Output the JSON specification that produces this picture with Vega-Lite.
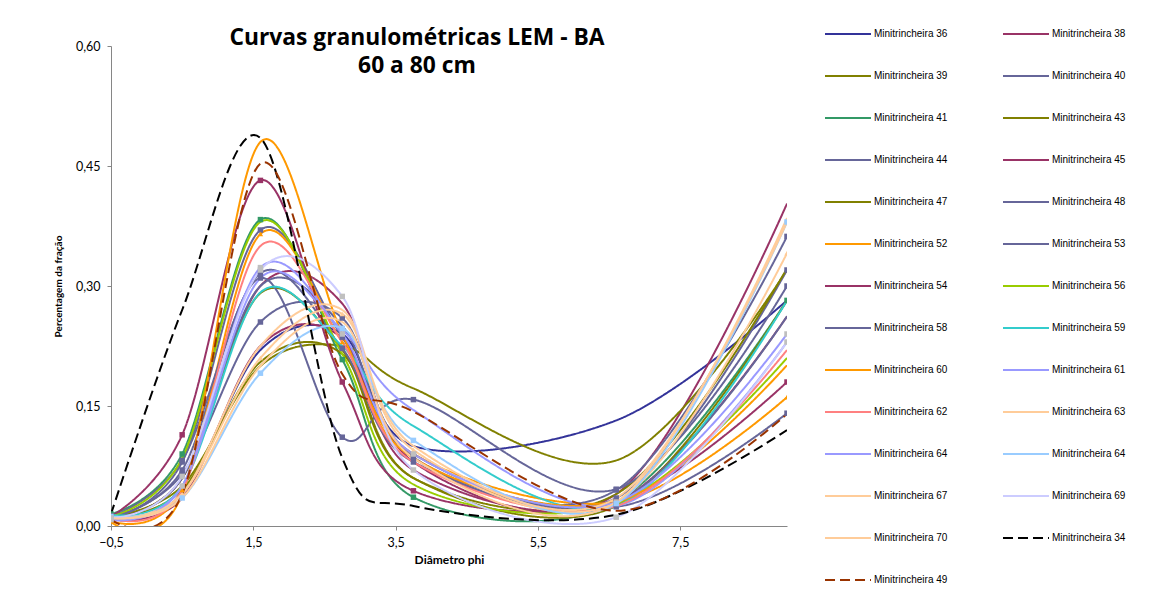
{
  "$schema": "https://vega.github.io/schema/vega-lite/v6.json",
  "width": 676,
  "height": 480,
  "autosize": {"type": "none"},
  "padding": {"left": 111, "top": 46, "right": 372, "bottom": 75},
  "background": "white",
  "config": {"view": {"stroke": null}, "font": "Lato"},
  "title": {
    "text": ["Curvas granulométricas LEM - BA", "60 a 80 cm"],
    "font": "Open Sans", "fontSize": 22.8, "fontWeight": "bold", "color": "#000",
    "frame": "group", "anchor": "middle", "dx": -32, "lineHeight": 28, "offset": -68
  },
  "data": {"values": [
    {"serie":"Minitrincheira 36","phi":-0.5,"valor":0.010},{"serie":"Minitrincheira 36","phi":0.5,"valor":0.040},{"serie":"Minitrincheira 36","phi":1.6,"valor":0.220},{"serie":"Minitrincheira 36","phi":2.75,"valor":0.240},{"serie":"Minitrincheira 36","phi":3.75,"valor":0.100},{"serie":"Minitrincheira 36","phi":6.6,"valor":0.132},{"serie":"Minitrincheira 36","phi":9,"valor":0.282},
    {"serie":"Minitrincheira 38","phi":-0.5,"valor":0.012},{"serie":"Minitrincheira 38","phi":0.5,"valor":0.060},{"serie":"Minitrincheira 38","phi":1.6,"valor":0.300},{"serie":"Minitrincheira 38","phi":2.75,"valor":0.278},{"serie":"Minitrincheira 38","phi":3.75,"valor":0.080},{"serie":"Minitrincheira 38","phi":6.6,"valor":0.040},{"serie":"Minitrincheira 38","phi":9,"valor":0.403},
    {"serie":"Minitrincheira 39","phi":-0.5,"valor":0.012},{"serie":"Minitrincheira 39","phi":0.5,"valor":0.050},{"serie":"Minitrincheira 39","phi":1.6,"valor":0.200},{"serie":"Minitrincheira 39","phi":2.75,"valor":0.225},{"serie":"Minitrincheira 39","phi":3.75,"valor":0.172},{"serie":"Minitrincheira 39","phi":6.6,"valor":0.082},{"serie":"Minitrincheira 39","phi":9,"valor":0.320},
    {"serie":"Minitrincheira 40","phi":-0.5,"valor":0.010},{"serie":"Minitrincheira 40","phi":0.5,"valor":0.080},{"serie":"Minitrincheira 40","phi":1.6,"valor":0.370},{"serie":"Minitrincheira 40","phi":2.75,"valor":0.236},{"serie":"Minitrincheira 40","phi":3.75,"valor":0.090},{"serie":"Minitrincheira 40","phi":6.6,"valor":0.035},{"serie":"Minitrincheira 40","phi":9,"valor":0.320},
    {"serie":"Minitrincheira 41","phi":-0.5,"valor":0.015},{"serie":"Minitrincheira 41","phi":0.5,"valor":0.090},{"serie":"Minitrincheira 41","phi":1.6,"valor":0.383},{"serie":"Minitrincheira 41","phi":2.75,"valor":0.208},{"serie":"Minitrincheira 41","phi":3.75,"valor":0.036},{"serie":"Minitrincheira 41","phi":6.6,"valor":0.030},{"serie":"Minitrincheira 41","phi":9,"valor":0.282},
    {"serie":"Minitrincheira 43","phi":-0.5,"valor":0.010},{"serie":"Minitrincheira 43","phi":0.5,"valor":0.060},{"serie":"Minitrincheira 43","phi":1.6,"valor":0.291},{"serie":"Minitrincheira 43","phi":2.75,"valor":0.220},{"serie":"Minitrincheira 43","phi":3.75,"valor":0.060},{"serie":"Minitrincheira 43","phi":6.6,"valor":0.040},{"serie":"Minitrincheira 43","phi":9,"valor":0.322},
    {"serie":"Minitrincheira 44","phi":-0.5,"valor":0.012},{"serie":"Minitrincheira 44","phi":0.5,"valor":0.070},{"serie":"Minitrincheira 44","phi":1.6,"valor":0.310},{"serie":"Minitrincheira 44","phi":2.75,"valor":0.111},{"serie":"Minitrincheira 44","phi":3.75,"valor":0.158},{"serie":"Minitrincheira 44","phi":6.6,"valor":0.046},{"serie":"Minitrincheira 44","phi":9,"valor":0.300},
    {"serie":"Minitrincheira 45","phi":-0.5,"valor":0.008},{"serie":"Minitrincheira 45","phi":0.5,"valor":0.035},{"serie":"Minitrincheira 45","phi":1.6,"valor":0.225},{"serie":"Minitrincheira 45","phi":2.75,"valor":0.235},{"serie":"Minitrincheira 45","phi":3.75,"valor":0.070},{"serie":"Minitrincheira 45","phi":6.6,"valor":0.030},{"serie":"Minitrincheira 45","phi":9,"valor":0.262},
    {"serie":"Minitrincheira 47","phi":-0.5,"valor":0.010},{"serie":"Minitrincheira 47","phi":0.5,"valor":0.045},{"serie":"Minitrincheira 47","phi":1.6,"valor":0.205},{"serie":"Minitrincheira 47","phi":2.75,"valor":0.215},{"serie":"Minitrincheira 47","phi":3.75,"valor":0.060},{"serie":"Minitrincheira 47","phi":6.6,"valor":0.025},{"serie":"Minitrincheira 47","phi":9,"valor":0.282},
    {"serie":"Minitrincheira 48","phi":-0.5,"valor":0.010},{"serie":"Minitrincheira 48","phi":0.5,"valor":0.060},{"serie":"Minitrincheira 48","phi":1.6,"valor":0.300},{"serie":"Minitrincheira 48","phi":2.75,"valor":0.250},{"serie":"Minitrincheira 48","phi":3.75,"valor":0.085},{"serie":"Minitrincheira 48","phi":6.6,"valor":0.030},{"serie":"Minitrincheira 48","phi":9,"valor":0.262},
    {"serie":"Minitrincheira 52","phi":-0.5,"valor":0.006},{"serie":"Minitrincheira 52","phi":0.5,"valor":0.045},{"serie":"Minitrincheira 52","phi":1.6,"valor":0.365},{"serie":"Minitrincheira 52","phi":2.75,"valor":0.230},{"serie":"Minitrincheira 52","phi":3.75,"valor":0.090},{"serie":"Minitrincheira 52","phi":6.6,"valor":0.030},{"serie":"Minitrincheira 52","phi":9,"valor":0.161},
    {"serie":"Minitrincheira 53","phi":-0.5,"valor":0.012},{"serie":"Minitrincheira 53","phi":0.5,"valor":0.082},{"serie":"Minitrincheira 53","phi":1.6,"valor":0.316},{"serie":"Minitrincheira 53","phi":2.75,"valor":0.222},{"serie":"Minitrincheira 53","phi":3.75,"valor":0.080},{"serie":"Minitrincheira 53","phi":6.6,"valor":0.045},{"serie":"Minitrincheira 53","phi":9,"valor":0.362},
    {"serie":"Minitrincheira 54","phi":-0.5,"valor":0.012},{"serie":"Minitrincheira 54","phi":0.5,"valor":0.114},{"serie":"Minitrincheira 54","phi":1.6,"valor":0.432},{"serie":"Minitrincheira 54","phi":2.75,"valor":0.180},{"serie":"Minitrincheira 54","phi":3.75,"valor":0.044},{"serie":"Minitrincheira 54","phi":6.6,"valor":0.030},{"serie":"Minitrincheira 54","phi":9,"valor":0.180},
    {"serie":"Minitrincheira 56","phi":-0.5,"valor":0.012},{"serie":"Minitrincheira 56","phi":0.5,"valor":0.085},{"serie":"Minitrincheira 56","phi":1.6,"valor":0.380},{"serie":"Minitrincheira 56","phi":2.75,"valor":0.215},{"serie":"Minitrincheira 56","phi":3.75,"valor":0.052},{"serie":"Minitrincheira 56","phi":6.6,"valor":0.028},{"serie":"Minitrincheira 56","phi":9,"valor":0.210},
    {"serie":"Minitrincheira 58","phi":-0.5,"valor":0.010},{"serie":"Minitrincheira 58","phi":0.5,"valor":0.065},{"serie":"Minitrincheira 58","phi":1.6,"valor":0.255},{"serie":"Minitrincheira 58","phi":2.75,"valor":0.260},{"serie":"Minitrincheira 58","phi":3.75,"valor":0.086},{"serie":"Minitrincheira 58","phi":6.6,"valor":0.024},{"serie":"Minitrincheira 58","phi":9,"valor":0.141},
    {"serie":"Minitrincheira 59","phi":-0.5,"valor":0.014},{"serie":"Minitrincheira 59","phi":0.5,"valor":0.050},{"serie":"Minitrincheira 59","phi":1.6,"valor":0.292},{"serie":"Minitrincheira 59","phi":2.75,"valor":0.225},{"serie":"Minitrincheira 59","phi":3.75,"valor":0.125},{"serie":"Minitrincheira 59","phi":6.6,"valor":0.025},{"serie":"Minitrincheira 59","phi":9,"valor":0.282},
    {"serie":"Minitrincheira 60","phi":-0.5,"valor":0.005},{"serie":"Minitrincheira 60","phi":0.5,"valor":0.040},{"serie":"Minitrincheira 60","phi":1.6,"valor":0.480},{"serie":"Minitrincheira 60","phi":2.75,"valor":0.240},{"serie":"Minitrincheira 60","phi":3.75,"valor":0.085},{"serie":"Minitrincheira 60","phi":6.6,"valor":0.030},{"serie":"Minitrincheira 60","phi":9,"valor":0.201},
    {"serie":"Minitrincheira 61","phi":-0.5,"valor":0.010},{"serie":"Minitrincheira 61","phi":0.5,"valor":0.050},{"serie":"Minitrincheira 61","phi":1.6,"valor":0.310},{"serie":"Minitrincheira 61","phi":2.75,"valor":0.245},{"serie":"Minitrincheira 61","phi":3.75,"valor":0.145},{"serie":"Minitrincheira 61","phi":6.6,"valor":0.025},{"serie":"Minitrincheira 61","phi":9,"valor":0.230},
    {"serie":"Minitrincheira 62","phi":-0.5,"valor":0.010},{"serie":"Minitrincheira 62","phi":0.5,"valor":0.045},{"serie":"Minitrincheira 62","phi":1.6,"valor":0.350},{"serie":"Minitrincheira 62","phi":2.75,"valor":0.230},{"serie":"Minitrincheira 62","phi":3.75,"valor":0.080},{"serie":"Minitrincheira 62","phi":6.6,"valor":0.025},{"serie":"Minitrincheira 62","phi":9,"valor":0.220},
    {"serie":"Minitrincheira 63","phi":-0.5,"valor":0.010},{"serie":"Minitrincheira 63","phi":0.5,"valor":0.040},{"serie":"Minitrincheira 63","phi":1.6,"valor":0.210},{"serie":"Minitrincheira 63","phi":2.75,"valor":0.265},{"serie":"Minitrincheira 63","phi":3.75,"valor":0.095},{"serie":"Minitrincheira 63","phi":6.6,"valor":0.030},{"serie":"Minitrincheira 63","phi":9,"valor":0.341},
    {"serie":"Minitrincheira 64","phi":-0.5,"valor":0.008},{"serie":"Minitrincheira 64","phi":0.5,"valor":0.050},{"serie":"Minitrincheira 64","phi":1.6,"valor":0.323},{"serie":"Minitrincheira 64","phi":2.75,"valor":0.240},{"serie":"Minitrincheira 64","phi":3.75,"valor":0.090},{"serie":"Minitrincheira 64","phi":6.6,"valor":0.030},{"serie":"Minitrincheira 64","phi":9,"valor":0.240},
    {"serie":"Minitrincheira 64 ","phi":-0.5,"valor":0.012},{"serie":"Minitrincheira 64 ","phi":0.5,"valor":0.035},{"serie":"Minitrincheira 64 ","phi":1.6,"valor":0.191},{"serie":"Minitrincheira 64 ","phi":2.75,"valor":0.247},{"serie":"Minitrincheira 64 ","phi":3.75,"valor":0.107},{"serie":"Minitrincheira 64 ","phi":6.6,"valor":0.028},{"serie":"Minitrincheira 64 ","phi":9,"valor":0.380},
    {"serie":"Minitrincheira 67","phi":-0.5,"valor":0.010},{"serie":"Minitrincheira 67","phi":0.5,"valor":0.040},{"serie":"Minitrincheira 67","phi":1.6,"valor":0.225},{"serie":"Minitrincheira 67","phi":2.75,"valor":0.270},{"serie":"Minitrincheira 67","phi":3.75,"valor":0.100},{"serie":"Minitrincheira 67","phi":6.6,"valor":0.035},{"serie":"Minitrincheira 67","phi":9,"valor":0.380},
    {"serie":"Minitrincheira 69","phi":-0.5,"valor":0.010},{"serie":"Minitrincheira 69","phi":0.5,"valor":0.062},{"serie":"Minitrincheira 69","phi":1.6,"valor":0.320},{"serie":"Minitrincheira 69","phi":2.75,"valor":0.287},{"serie":"Minitrincheira 69","phi":3.75,"valor":0.070},{"serie":"Minitrincheira 69","phi":6.6,"valor":0.011},{"serie":"Minitrincheira 69","phi":9,"valor":0.230},
    {"serie":"Minitrincheira 70","phi":-0.5,"valor":0.010},{"serie":"Minitrincheira 70","phi":0.5,"valor":0.035},{"serie":"Minitrincheira 70","phi":1.6,"valor":0.200},{"serie":"Minitrincheira 70","phi":2.75,"valor":0.255},{"serie":"Minitrincheira 70","phi":3.75,"valor":0.085},{"serie":"Minitrincheira 70","phi":6.6,"valor":0.030},{"serie":"Minitrincheira 70","phi":9,"valor":0.385},
    {"serie":"Minitrincheira 34","phi":-0.5,"valor":0.015},{"serie":"Minitrincheira 34","phi":0.5,"valor":0.270},{"serie":"Minitrincheira 34","phi":1.6,"valor":0.485},{"serie":"Minitrincheira 34","phi":2.75,"valor":0.085},{"serie":"Minitrincheira 34","phi":3.75,"valor":0.025},{"serie":"Minitrincheira 34","phi":6.6,"valor":0.014},{"serie":"Minitrincheira 34","phi":9,"valor":0.120},
    {"serie":"Minitrincheira 49","phi":-0.5,"valor":0.008},{"serie":"Minitrincheira 49","phi":0.5,"valor":0.040},{"serie":"Minitrincheira 49","phi":1.6,"valor":0.453},{"serie":"Minitrincheira 49","phi":2.75,"valor":0.190},{"serie":"Minitrincheira 49","phi":3.75,"valor":0.143},{"serie":"Minitrincheira 49","phi":6.6,"valor":0.019},{"serie":"Minitrincheira 49","phi":9,"valor":0.140}
  ]},
  "encoding": {
    "x": {
      "field": "phi", "type": "quantitative",
      "scale": {"domain": [-0.5, 9], "nice": false, "zero": false},
      "axis": {
        "values": [-0.5, 1.5, 3.5, 5.5, 7.5],
        "labelExpr": "replace(format(datum.value, '.1f'), '.', ',')",
        "title": "Diâmetro phi", "titleFont": "Lato", "titleFontSize": 12, "titleFontWeight": "bold", "titleColor": "#000", "titlePadding": 6,
        "labelFont": "Lato", "labelFontSize": 12.5, "labelColor": "#000", "labelPadding": 6, "labelFlush": false,
        "domainColor": "#868686", "tickColor": "#868686", "tickSize": 4, "grid": false
      }
    },
    "y": {
      "field": "valor", "type": "quantitative",
      "scale": {"domain": [0, 0.6], "nice": false},
      "axis": {
        "values": [0, 0.15, 0.3, 0.45, 0.6],
        "labelExpr": "replace(format(datum.value, '.2f'), '.', ',')",
        "title": "Percentagem da fração", "titleFont": "Lato", "titleFontSize": 10, "titleFontWeight": "bold", "titleColor": "#000", "titlePadding": 12,
        "labelFont": "Lato", "labelFontSize": 12.5, "labelColor": "#000", "labelPadding": 7,
        "domainColor": "#868686", "tickColor": "#868686", "tickSize": 4, "grid": false
      }
    }
  },
  "layer": [
    {
      "mark": {"type": "line", "interpolate": "cardinal", "strokeWidth": 2, "clip": true},
      "encoding": {
        "color": {
          "field": "serie", "type": "nominal",
          "scale": {
            "domain": ["Minitrincheira 36","Minitrincheira 38","Minitrincheira 39","Minitrincheira 40","Minitrincheira 41","Minitrincheira 43","Minitrincheira 44","Minitrincheira 45","Minitrincheira 47","Minitrincheira 48","Minitrincheira 52","Minitrincheira 53","Minitrincheira 54","Minitrincheira 56","Minitrincheira 58","Minitrincheira 59","Minitrincheira 60","Minitrincheira 61","Minitrincheira 62","Minitrincheira 63","Minitrincheira 64","Minitrincheira 64 ","Minitrincheira 67","Minitrincheira 69","Minitrincheira 70","Minitrincheira 34","Minitrincheira 49"],
            "range": ["#333399","#993366","#808000","#666699","#339966","#808000","#666699","#993366","#808000","#666699","#FF9900","#666699","#993366","#99CC00","#666699","#33CCCC","#FF9900","#9999FF","#FF8080","#FFCC99","#9999FF","#99CCFF","#FFCC99","#CCCCFF","#FFCC99","#000000","#993300"]
          },
          "legend": {"title": null, "orient": "none", "direction": "horizontal", "legendX": 713, "legendY": -36, "columns": 2, "symbolType": "stroke", "symbolSize": 2116, "symbolStrokeWidth": 2, "labelFont": "Liberation Sans", "labelFontSize": 10, "labelColor": "#000", "labelOffset": 2, "rowPadding": 13, "columnPadding": 51, "padding": 0, "symbolLimit": 40}
        },
        "strokeDash": {
          "field": "serie", "type": "nominal",
          "scale": {
            "domain": ["Minitrincheira 36","Minitrincheira 38","Minitrincheira 39","Minitrincheira 40","Minitrincheira 41","Minitrincheira 43","Minitrincheira 44","Minitrincheira 45","Minitrincheira 47","Minitrincheira 48","Minitrincheira 52","Minitrincheira 53","Minitrincheira 54","Minitrincheira 56","Minitrincheira 58","Minitrincheira 59","Minitrincheira 60","Minitrincheira 61","Minitrincheira 62","Minitrincheira 63","Minitrincheira 64","Minitrincheira 64 ","Minitrincheira 67","Minitrincheira 69","Minitrincheira 70","Minitrincheira 34","Minitrincheira 49"],
            "range": [[1,0],[1,0],[1,0],[1,0],[1,0],[1,0],[1,0],[1,0],[1,0],[1,0],[1,0],[1,0],[1,0],[1,0],[1,0],[1,0],[1,0],[1,0],[1,0],[1,0],[1,0],[1,0],[1,0],[1,0],[1,0],[10,5],[10,5]]
          },
          "legend": {"title": null, "orient": "none", "direction": "horizontal", "legendX": 713, "legendY": -36, "columns": 2, "symbolType": "stroke", "symbolSize": 2116, "symbolStrokeWidth": 2, "labelFont": "Liberation Sans", "labelFontSize": 10, "labelColor": "#000", "labelOffset": 2, "rowPadding": 13, "columnPadding": 51, "padding": 0, "symbolLimit": 40}
        }
      }
    },
    {
      "transform": [{"filter": {"field": "serie", "oneOf": ["Minitrincheira 40","Minitrincheira 41","Minitrincheira 44","Minitrincheira 53","Minitrincheira 54","Minitrincheira 58","Minitrincheira 64","Minitrincheira 64 ","Minitrincheira 69","Minitrincheira 52","Minitrincheira 63"]}}],
      "mark": {"type": "point", "filled": true, "opacity": 1, "strokeWidth": 0, "clip": true},
      "encoding": {
        "fill": {
          "field": "serie", "type": "nominal", "legend": null,
          "scale": {
            "domain": ["Minitrincheira 40","Minitrincheira 41","Minitrincheira 44","Minitrincheira 53","Minitrincheira 54","Minitrincheira 58","Minitrincheira 64","Minitrincheira 64 ","Minitrincheira 69","Minitrincheira 52","Minitrincheira 63"],
            "range": ["#666699","#339966","#666699","#666699","#993366","#666699","#BFBFBF","#99CCFF","#C0C0C0","#FF9900","#FFCC99"]
          }
        },
        "shape": {
          "field": "serie", "type": "nominal", "legend": null,
          "scale": {
            "domain": ["Minitrincheira 40","Minitrincheira 41","Minitrincheira 44","Minitrincheira 53","Minitrincheira 54","Minitrincheira 58","Minitrincheira 64","Minitrincheira 64 ","Minitrincheira 69","Minitrincheira 52","Minitrincheira 63"],
            "range": ["square","square","square","square","square","square","square","square","square","triangle-up","triangle-up"]
          }
        },
        "size": {
          "field": "serie", "type": "nominal", "legend": null,
          "scale": {
            "domain": ["Minitrincheira 40","Minitrincheira 41","Minitrincheira 44","Minitrincheira 53","Minitrincheira 54","Minitrincheira 58","Minitrincheira 64","Minitrincheira 64 ","Minitrincheira 69","Minitrincheira 52","Minitrincheira 63"],
            "range": [30, 30, 30, 64, 30, 30, 50, 50, 30, 25, 25]
          }
        }
      }
    }
  ]
}
